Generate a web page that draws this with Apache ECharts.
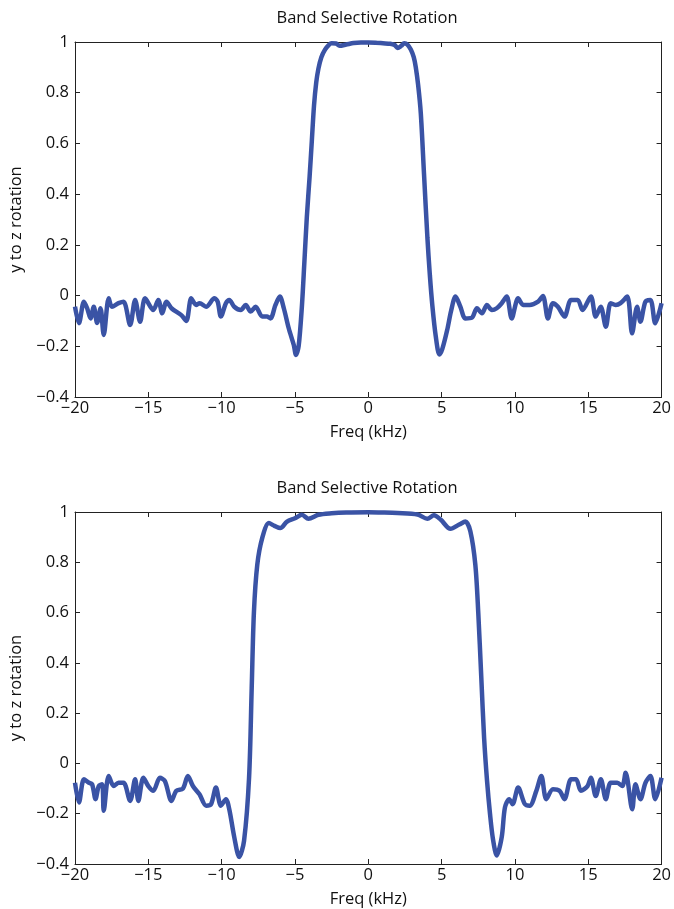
<!DOCTYPE html>
<html>
<head>
<meta charset="utf-8">
<script src="https://cdn.jsdelivr.net/npm/echarts@6/dist/echarts.min.js"></script>
<style>
html,body{margin:0;padding:0;background:#fff;}
#chart{width:674px;height:909px;}
</style>
</head>
<body>
<div id="chart"></div>
<script>
const chartTitle = 'Band Selective Rotation';
const xName = 'Freq (kHz)';
const yName = 'y to z rotation';
const xTicks = [-20, -15, -10, -5, 0, 5, 10, 15, 20];
const yTicks = [-0.4, -0.2, 0, 0.2, 0.4, 0.6, 0.8, 1];

const freqTop = [-20, -19.73, -19.39, -19.17, -18.94, -18.72, -18.49, -18.26, -18.04, -17.7, -17.48, -17.03, -16.69, -16.24, -15.9, -15.56, -15.22, -14.66, -14.32, -14.05, -13.76, -13.42, -12.75, -12.41, -12.07, -11.74, -11.5, -11.06, -10.49, -10.27, -10.05, -9.71, -9.48, -9.14, -8.69, -8.36, -8.02, -7.68, -7.23, -6.89, -6.67, -6.33, -6.03, -5.76, -5.42, -5.08, -4.93, -4.75, -4.53, -4.36, -4.19, -4.0, -3.85, -3.7, -3.55, -3.4, -3.2, -2.95, -2.7, -2.5, -2.2, -1.96, -1.5, -1, -0.5, 0, 0.5, 1, 1.5, 1.8, 2.0, 2.25, 2.45, 2.67, 2.9, 3.1, 3.24, 3.4, 3.58, 3.8, 4.03, 4.2, 4.37, 4.6, 4.85, 5.05, 5.38, 5.65, 5.95, 6.28, 6.62, 7.07, 7.41, 7.75, 8.09, 8.43, 8.76, 9.1, 9.44, 9.78, 10.22, 10.56, 11.01, 11.58, 11.91, 12.25, 12.59, 12.93, 13.38, 13.83, 14.28, 14.61, 15.18, 15.51, 15.85, 16.2, 16.53, 16.87, 17.2, 17.66, 17.99, 18.33, 18.56, 18.9, 19.24, 19.57, 20];
const rotTop = [-0.044, -0.109, -0.024, -0.05, -0.09, -0.044, -0.108, -0.05, -0.155, -0.011, -0.044, -0.03, -0.024, -0.116, -0.017, -0.103, -0.011, -0.057, -0.017, -0.07, -0.024, -0.05, -0.077, -0.1, -0.011, -0.037, -0.03, -0.044, -0.011, -0.024, -0.083, -0.03, -0.017, -0.044, -0.057, -0.037, -0.063, -0.044, -0.083, -0.083, -0.09, -0.037, -0.004, -0.05, -0.13, -0.195, -0.234, -0.2, -0.045, 0.13, 0.31, 0.47, 0.61, 0.75, 0.84, 0.895, 0.94, 0.97, 0.988, 0.995, 0.994, 0.985, 0.99, 0.996, 0.998, 0.998, 0.997, 0.995, 0.993, 0.988, 0.976, 0.985, 0.995, 0.99, 0.97, 0.94, 0.9, 0.83, 0.72, 0.48, 0.23, 0.08, -0.04, -0.16, -0.232, -0.21, -0.136, -0.06, -0.004, -0.044, -0.09, -0.087, -0.05, -0.07, -0.037, -0.057, -0.05, -0.03, -0.004, -0.09, -0.011, -0.037, -0.037, -0.024, -0.002, -0.09, -0.03, -0.044, -0.083, -0.017, -0.017, -0.057, -0.004, -0.083, -0.044, -0.123, -0.03, -0.037, -0.03, -0.004, -0.149, -0.044, -0.103, -0.024, -0.017, -0.109, -0.03];

const freqBottom = [-20, -19.73, -19.39, -19.05, -18.83, -18.6, -18.38, -18.15, -18.04, -17.7, -17.36, -17.03, -16.69, -16.24, -15.9, -15.68, -15.34, -15.0, -14.66, -14.21, -13.87, -13.42, -13.09, -12.64, -12.3, -11.96, -11.51, -11.06, -10.72, -10.39, -10.05, -9.71, -9.48, -9.14, -8.8, -8.47, -8.13, -7.95, -7.8, -7.57, -7.23, -6.78, -6.4, -6.0, -5.54, -5.0, -4.53, -4.08, -3.4, -2.5, -1.5, 0, 1, 2, 3.36, 4.03, 4.48, 4.93, 5.61, 6.2, 6.62, 6.96, 7.3, 7.5, 7.7, 7.9, 8.1, 8.3, 8.5, 8.76, 9.1, 9.32, 9.61, 9.84, 10.22, 10.68, 11.01, 11.46, 11.8, 12.14, 12.59, 13.04, 13.38, 13.83, 14.17, 14.5, 14.95, 15.18, 15.51, 15.86, 16.2, 16.53, 16.98, 17.32, 17.55, 18.0, 18.22, 18.56, 18.9, 19.24, 19.57, 20];
const rotBottom = [-0.077, -0.155, -0.063, -0.077, -0.083, -0.142, -0.09, -0.083, -0.188, -0.05, -0.09, -0.077, -0.077, -0.149, -0.063, -0.149, -0.057, -0.09, -0.109, -0.057, -0.07, -0.149, -0.109, -0.1, -0.05, -0.09, -0.123, -0.168, -0.162, -0.096, -0.168, -0.142, -0.182, -0.293, -0.372, -0.307, -0.057, 0.3, 0.6, 0.79, 0.897, 0.956, 0.945, 0.936, 0.962, 0.975, 0.989, 0.973, 0.989, 0.995, 0.998, 0.999, 0.998, 0.996, 0.99, 0.973, 0.987, 0.97, 0.933, 0.95, 0.962, 0.923, 0.79, 0.6, 0.35, 0.1, -0.07, -0.2, -0.3, -0.366, -0.293, -0.175, -0.142, -0.162, -0.096, -0.162, -0.168, -0.109, -0.05, -0.142, -0.103, -0.109, -0.142, -0.063, -0.063, -0.109, -0.09, -0.057, -0.13, -0.063, -0.142, -0.077, -0.077, -0.09, -0.037, -0.182, -0.083, -0.142, -0.077, -0.05, -0.142, -0.057];

const FONT = '"Open Sans", "Noto Sans", sans-serif';
const FS = 16.5;
const TEXT = '#111';
const AXIS = '#222';
const LINE = '#3a53a5';

function fmt(v) {
  const s = String(+(+v).toFixed(1));
  return s.replace('-', '\u2212');
}
function pairs(xs, ys) { return xs.map((x, i) => [x, ys[i]]); }

const xMin = xTicks[0], xMax = xTicks[xTicks.length - 1];
const yMin = yTicks[0], yMax = yTicks[yTicks.length - 1];

function xAx(gridIndex, pos, labels) {
  return {
    type: 'value', gridIndex, position: pos, min: xMin, max: xMax, interval: 5,
    axisLine: { show: true, onZero: false, lineStyle: { color: AXIS, width: 1 } },
    axisTick: { show: true, inside: true, length: 5, lineStyle: { color: AXIS } },
    splitLine: { show: false },
    axisLabel: { show: labels, formatter: fmt, color: TEXT, fontSize: FS, fontFamily: FONT, margin: 3 },
    name: labels ? xName : '', nameLocation: 'middle', nameGap: 27,
    nameTextStyle: { color: TEXT, fontSize: FS, fontFamily: FONT }
  };
}
function yAx(gridIndex, pos, labels) {
  return {
    type: 'value', gridIndex, position: pos, min: yMin, max: yMax, interval: 0.2,
    axisLine: { show: true, onZero: false, lineStyle: { color: AXIS, width: 1 } },
    axisTick: { show: true, inside: true, length: 5, lineStyle: { color: AXIS } },
    splitLine: { show: false },
    axisLabel: { show: labels, formatter: fmt, color: TEXT, fontSize: FS, fontFamily: FONT, margin: 6 },
    name: labels ? yName : '', nameLocation: 'middle', nameGap: 50, nameRotate: 90,
    nameTextStyle: { color: TEXT, fontSize: FS, fontFamily: FONT }
  };
}

const chart = echarts.init(document.getElementById('chart'), null, { renderer: 'canvas' });
chart.setOption({
  animation: false,
  backgroundColor: '#fff',
  title: [
    { text: chartTitle, left: 367, top: 10, textAlign: 'center', padding: 0,
      textStyle: { fontSize: FS, fontWeight: 'normal', color: TEXT, fontFamily: FONT } },
    { text: chartTitle, left: 367, top: 480, textAlign: 'center', padding: 0,
      textStyle: { fontSize: FS, fontWeight: 'normal', color: TEXT, fontFamily: FONT } }
  ],
  grid: [
    { left: 71, right: 11, top: 42, height: 355 },
    { left: 71, right: 11, top: 512, height: 355 }
  ],
  xAxis: [xAx(0, 'bottom', true), xAx(0, 'top', false), xAx(1, 'bottom', true), xAx(1, 'top', false)],
  yAxis: [yAx(0, 'left', true), yAx(0, 'right', false), yAx(1, 'left', true), yAx(1, 'right', false)],
  series: [
    { type: 'line', xAxisIndex: 0, yAxisIndex: 0, data: pairs(freqTop, rotTop), showSymbol: false, smooth: 0.3,
      lineStyle: { width: 4.5, color: LINE }, itemStyle: { color: LINE } },
    { type: 'line', xAxisIndex: 2, yAxisIndex: 2, data: pairs(freqBottom, rotBottom), showSymbol: false, smooth: 0.3,
      lineStyle: { width: 4.5, color: LINE }, itemStyle: { color: LINE } }
  ]
});
</script>
</body>
</html>
